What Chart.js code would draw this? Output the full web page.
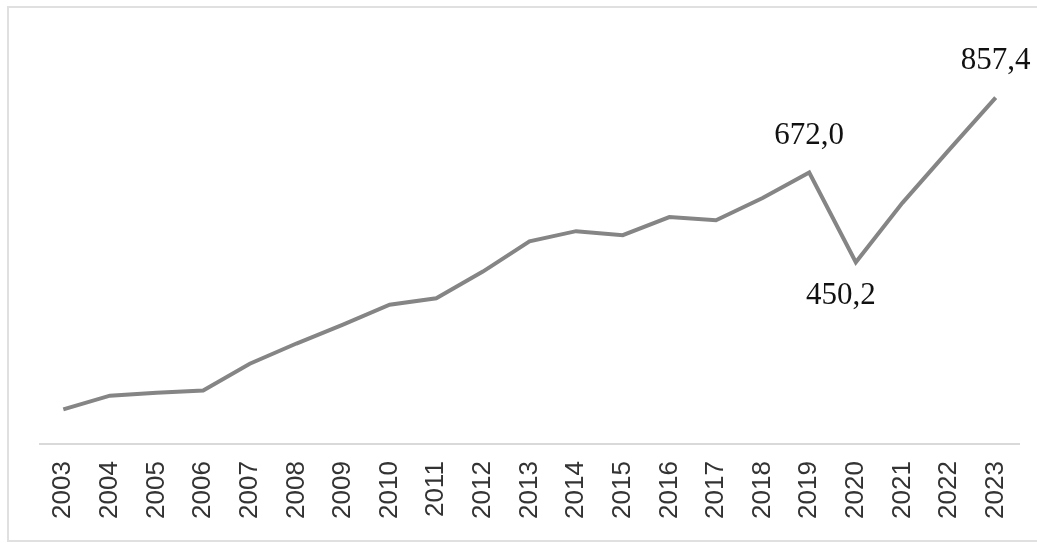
<!DOCTYPE html>
<html>
<head>
<meta charset="utf-8">
<script src="https://cdn.jsdelivr.net/npm/chart.js@4"></script>
<style>
    body { margin: 0; background: #fff; }
    #wrap { position: relative; width: 1037px; height: 543px; overflow: hidden; }
    #frame { position: absolute; left: 7px; top: 6px; width: 1100px; height: 532px; border: 2px solid #e0e0e0; }
    canvas { position: absolute; left: 0; top: 0; }
</style>
</head>
<body>
<div id="wrap">
    <div id="frame"></div>
    <canvas id="lineChart" width="1037" height="543"></canvas>
</div>
<script>
// Years on the x axis
const years = ['2003', '2004', '2005', '2006', '2007', '2008', '2009', '2010', '2011', '2012',
    '2013', '2014', '2015', '2016', '2017', '2018', '2019', '2020', '2021', '2022', '2023'];

// Series values (labelled points are exact)
const values = [86, 120, 127, 133, 199, 249, 296, 345, 361, 427,
    502, 527, 517, 562, 554, 609, 672.0, 450.2, 597, 728, 857.4];

// Which points carry a value label
const labelledPoints = [16, 17, 20];

// Draw the value labels next to the chosen points
const pointLabels = {
    id: 'pointLabels',
    afterDatasetsDraw(chart) {
        const ctx = chart.ctx;
        const meta = chart.getDatasetMeta(0);
        ctx.save();
        ctx.font = '31px "Liberation Serif", "Times New Roman", serif';
        ctx.fillStyle = '#111';
        ctx.textAlign = 'center';
        ctx.textBaseline = 'middle';
        labelledPoints.forEach(i => {
            const pt = meta.data[i];
            const text = values[i].toFixed(1).replace('.', ',');
            // dip goes below, peaks go above
            if (i === 17) {
                ctx.fillText(text, pt.x - 15, pt.y + 34);
            } else {
                ctx.fillText(text, pt.x, pt.y - 37);
            }
        });
        ctx.restore();
    }
};

const ctx = document.getElementById('lineChart').getContext('2d');
new Chart(ctx, {
    type: 'line',
    data: {
        labels: years,
        datasets: [{
            data: values,
            borderColor: '#858585',
            borderWidth: 4,
            pointRadius: 0,
            tension: 0,
            fill: false
        }]
    },
    options: {
        responsive: false,
        animation: false,
        layout: {
            padding: { left: 40, right: 18, top: 40, bottom: 7 }
        },
        plugins: {
            legend: { display: false },
            tooltip: { enabled: false }
        },
        scales: {
            x: {
                offset: true,
                grid: { display: false, drawTicks: false },
                border: { display: true, color: '#d9d9d9', width: 2 },
                ticks: {
                    minRotation: 90,
                    maxRotation: 90,
                    padding: 17,
                    color: '#333',
                    font: { family: '"Liberation Sans", Arial, sans-serif', size: 26 }
                },
                // labels sit well inside the offset band, no extra side padding needed
                afterFit(scale) {
                    scale.paddingLeft = 0;
                    scale.paddingRight = 0;
                }
            },
            y: {
                display: false,
                min: 0,
                max: 1000
            }
        }
    },
    plugins: [pointLabels]
});
</script>
</body>
</html>
